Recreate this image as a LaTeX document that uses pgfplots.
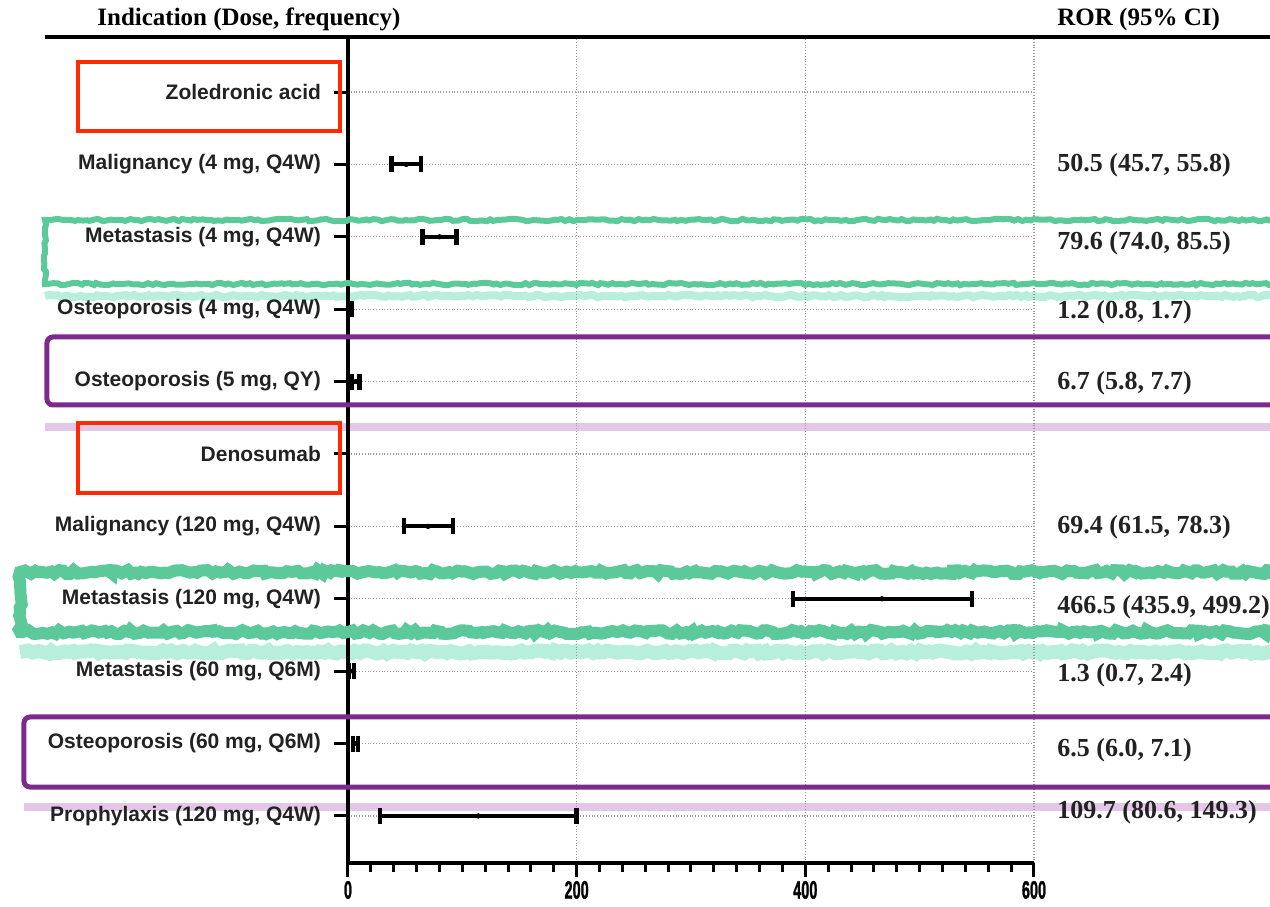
\documentclass[border=0pt]{standalone}
\usepackage{graphicx}
\usepackage{pgfplots}
\pgfplotsset{compat=1.18}
\usepackage{pgfplotstable}
\usepackage{fontspec}
\setmainfont{Liberation Serif}
\newfontfamily\arial{Liberation Sans}
\newfontfamily\condnum{Liberation Sans}[BoldFeatures={FakeBold=1.6}]
\usetikzlibrary{decorations.pathmorphing}
\definecolor{hlred}{HTML}{FF2A00}
\definecolor{hlgreen}{HTML}{5CC99B}
\definecolor{hlgreenlt}{HTML}{B8EEDC}
\definecolor{hlpurple}{HTML}{7E2A8C}
\definecolor{hlpurplelt}{HTML}{E4C6E7}
\definecolor{lbl}{HTML}{222222}
\newcommand\xl[1]{\scalebox{0.58}[1]{\condnum\bfseries\fontsize{12.5}{14}\selectfont #1}}

\pgfplotstableread{
y c lo hi
10 51 38 64
9 80 65 95
8 1.6 0.5 3
7 6.7 3 10
5 70 49 92
4 467 389 546
3 2.2 0.5 5
2 6.5 4.5 9
1 114 28 200
}\datatable

\begin{document}
\begin{tikzpicture}
\useasboundingbox (-174pt,-21.5pt) rectangle (461pt,431.5pt);
\begin{scope}[x=0.5pt, y=-0.5pt, shift={(-348,-863)}]
  % pale shadow bands (under everything)
  \draw[hlgreenlt, line width=4pt, decorate, decoration={random steps, segment length=2pt, amplitude=0.6pt}] (45,296) -- (1290,296);
  \draw[hlgreenlt, line width=7pt, decorate, decoration={random steps, segment length=2pt, amplitude=0.8pt}] (20,652) -- (1290,652);
  \draw[hlpurplelt, line width=4pt] (45,427) -- (1290,427);
  \draw[hlpurplelt, line width=4pt] (24,807) -- (1290,807);
\end{scope}
\begin{axis}[
  at={(0,0)}, anchor=south west, scale only axis,
  width=343pt, height=413pt,
  xmin=0, xmax=600, ymin=0.35, ymax=11.76,
  clip=false,
  axis x line*=bottom, axis y line*=left,
  axis line style={-, line width=1.6pt, black},
  xtick={0,200,400,600}, minor x tick num=9,
  xticklabels={\xl{0},\xl{200},\xl{400},\xl{600}},
  ytick={1,...,11},
  yticklabels={Prophylaxis (120 mg{,} Q4W), Osteoporosis (60 mg{,} Q6M), Metastasis (60 mg{,} Q6M), Metastasis (120 mg{,} Q4W), Malignancy (120 mg{,} Q4W), Denosumab, Osteoporosis (5 mg{,} QY), Osteoporosis (4 mg{,} Q4W), Metastasis (4 mg{,} Q4W), Malignancy (4 mg{,} Q4W), Zoledronic acid},
  tick align=outside,
  major tick length=7pt, minor tick length=4.5pt,
  every tick/.style={black, line width=1.5pt},
  minor tick style={black, line width=1.5pt},
  xmajorgrids, ymajorgrids,
  grid style={densely dotted, gray!80, line width=0.6pt},
  xticklabel style={black, yshift=1.5pt},
  yticklabel style={font=\arial\bfseries\fontsize{10.5}{12}\selectfont, text=lbl, xshift=-3pt},
]
% CI line + point
\addplot[black, only marks, mark=*, mark size=1.1pt,
  error bars/.cd, x dir=both, x explicit, error mark=none,
  error bar style={line width=2pt, black}]
  table[x=c, y=y, x error expr=0, x error plus expr=\thisrow{hi}-\thisrow{c}, x error minus expr=\thisrow{c}-\thisrow{lo}] {\datatable};
% caps
\addplot[black, only marks, mark=|, mark size=4pt, mark options={line width=2.2pt}]
  table[x=lo, y=y] {\datatable};
\addplot[black, only marks, mark=|, mark size=4pt, mark options={line width=2.2pt}]
  table[x=hi, y=y] {\datatable};
\end{axis}
\begin{scope}[x=0.5pt, y=-0.5pt, shift={(-348,-863)}]
  % header
  \draw[line width=2.2pt] (45,37) -- (1275,37);
  \node[font=\bfseries\fontsize{12.5}{14}\selectfont, anchor=west, inner sep=0pt] at (97,19) {Indication (Dose, frequency)};
  \node[font=\bfseries\fontsize{12.5}{14}\selectfont, anchor=west, inner sep=0pt] at (1057,19) {ROR (95\% CI)};
  % red boxes
  \draw[hlred, line width=2.3pt] (78,62) rectangle (340,131);
  \draw[hlred, line width=2.3pt] (78,423) rectangle (340,493);
  % green boxes
  \draw[hlgreen, line width=3pt, decorate, decoration={random steps, segment length=2pt, amplitude=0.6pt}] (1290,220) -- (45,220) -- (45,284) -- (1290,284);
  \draw[hlgreen, line width=6pt, decorate, decoration={random steps, segment length=2pt, amplitude=1pt}] (1290,572) -- (20,572) -- (20,632) -- (1290,632);
  % purple boxes
  \draw[hlpurple, line width=2.5pt, rounded corners=3pt] (1290,337) -- (47,337) -- (47,405) -- (1290,405);
  \draw[hlpurple, line width=2.5pt, rounded corners=3pt] (1290,717) -- (24,717) -- (24,787) -- (1290,787);
  % ROR column
  \foreach \yy/\tt in {165/{50.5 (45.7, 55.8)}, 243/{79.6 (74.0, 85.5)}, 312/{1.2 (0.8, 1.7)}, 383/{6.7 (5.8, 7.7)}, 527/{69.4 (61.5, 78.3)}, 607/{466.5 (435.9, 499.2)}, 675/{1.3 (0.7, 2.4)}, 750/{6.5 (6.0, 7.1)}, 812/{109.7 (80.6, 149.3)}}
    \node[font=\bfseries\fontsize{13}{15}\selectfont, anchor=west, inner sep=0pt, text=lbl] at (1057,\yy) {\tt};
\end{scope}
\end{tikzpicture}
\end{document}
